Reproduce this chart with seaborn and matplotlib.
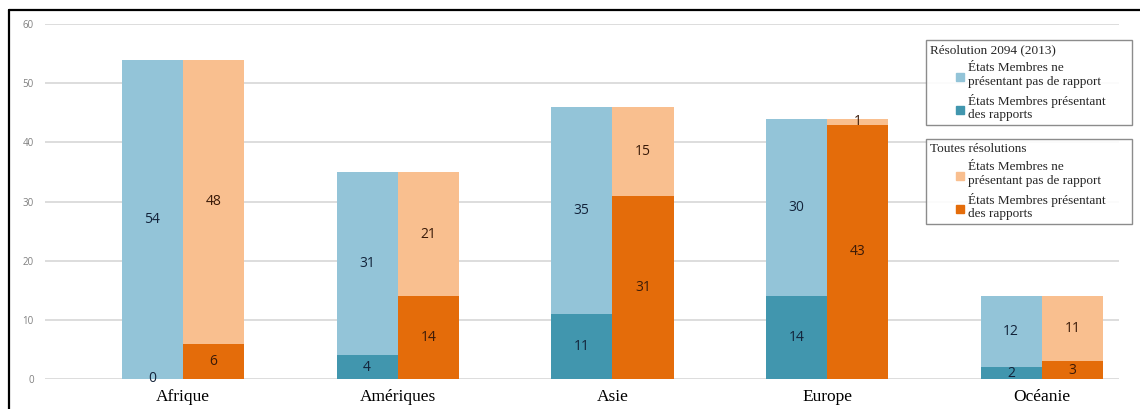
import pandas as pd
import numpy as np
import seaborn as sns
import matplotlib.pyplot as plt
from matplotlib.lines import Line2D
from matplotlib.patches import Patch, Rectangle
from matplotlib.legend_handler import HandlerPatch

# données
regions = ['Afrique', 'Amériques', 'Asie', 'Europe', 'Océanie']
series = ['Résolution 2094 (2013)', 'Toutes résolutions']
res2094_rapport = [0, 4, 11, 14, 2]
res2094_sans = [54, 31, 35, 30, 12]
toutes_rapport = [6, 14, 31, 43, 3]
toutes_sans = [48, 21, 15, 1, 11]
entry_labels = ['États Membres ne\nprésentant pas de rapport',
                'États Membres présentant\ndes rapports']

light = ['#93c4d8', '#f9bf8f']
dark = ['#4196ae', '#e46c0a']
txt_col = ['#13233a', '#3a1a08']

df = pd.DataFrame({
    'region': regions * 2,
    'serie': [series[0]] * 5 + [series[1]] * 5,
    'rapport': res2094_rapport + toutes_rapport,
    'sans': res2094_sans + toutes_sans,
})
df['total'] = df['rapport'] + df['sans']

sns.set_style('whitegrid')
plt.rcParams['font.family'] = ['Open Sans', 'DejaVu Sans']

fig = plt.figure(figsize=(11.4, 4.09), dpi=100)
ax = fig.add_axes([45 / 1140, 30 / 409, 1074 / 1140, 355 / 409])

sns.barplot(data=df, x='region', y='total', hue='serie', palette=light,
            width=0.57, gap=0, saturation=1, legend=False, ax=ax,
            edgecolor='none', linewidth=0)
sns.barplot(data=df, x='region', y='rapport', hue='serie', palette=dark,
            width=0.57, gap=0, saturation=1, legend=False, ax=ax,
            edgecolor='none', linewidth=0)

# étiquettes
for k, cont in enumerate(ax.containers[:2]):
    sub = df[df['serie'] == series[k]].reset_index(drop=True)
    for i, p in enumerate(cont.patches):
        ax.text(p.get_x() + p.get_width() / 2,
                sub.loc[i, 'rapport'] + sub.loc[i, 'sans'] / 2,
                str(sub.loc[i, 'sans']), ha='center', va='center',
                fontsize=10, color=txt_col[k])
for k, cont in enumerate(ax.containers[2:4]):
    ax.bar_label(cont, label_type='center', fontsize=10, color=txt_col[k])

ax.set_ylim(0, 60)
ax.set_xlim(-0.643, 4.36)
ax.set_yticks(range(0, 61, 10))
ax.set_xlabel('')
ax.set_ylabel('')
ax.grid(axis='x', visible=False)
ax.grid(axis='y', color='#dadada', linewidth=1.3)
ax.set_axisbelow(True)
for s in ax.spines.values():
    s.set_visible(False)
ax.tick_params(axis='y', length=0, pad=8, labelsize=7, labelcolor='#808080')
ax.tick_params(axis='x', length=0, pad=7)
for t in ax.get_xticklabels():
    t.set_fontfamily('Liberation Serif')
    t.set_fontsize(12.5)
    t.set_color('black')


# légendes : petit carré décalé à droite de la zone de symbole
def small_square(legend, orig_handle, xdescent, ydescent, width, height, fontsize):
    return Rectangle((width - 6, height / 2 - 4.5), 5.5, 5.5)


leg_props = dict(prop={'family': 'Liberation Serif', 'size': 9.5},
                 title_fontproperties={'family': 'Liberation Serif', 'size': 9.5},
                 alignment='left', fancybox=False, frameon=True,
                 edgecolor='#808080', framealpha=0.9, borderpad=0.3,
                 handlelength=2.6, handletextpad=0.3, labelspacing=0.45,
                 borderaxespad=0, loc='upper left', mode='expand',
                 handler_map={Patch: HandlerPatch(patch_func=small_square)})

h1 = [Patch(color=light[0]), Patch(color=dark[0])]
leg1 = ax.legend(h1, entry_labels, title=series[0],
                 bbox_to_anchor=(926 / 1140, 1 - 119 / 409, 206 / 1140, 79 / 409),
                 bbox_transform=fig.transFigure, **leg_props)
leg1.get_frame().set_linewidth(1.0)
ax.add_artist(leg1)

h2 = [Patch(color=light[1]), Patch(color=dark[1])]
leg2 = ax.legend(h2, entry_labels, title=series[1],
                 bbox_to_anchor=(926 / 1140, 1 - 209 / 409, 206 / 1140, 70 / 409),
                 bbox_transform=fig.transFigure, **leg_props)
leg2.get_frame().set_linewidth(1.0)

# cadre noir (haut et gauche)
fig.add_artist(Line2D([9 / 1140, 1], [1 - 10 / 409, 1 - 10 / 409],
                      color='black', linewidth=1.6, transform=fig.transFigure))
fig.add_artist(Line2D([9 / 1140, 9 / 1140], [0, 1 - 10 / 409],
                      color='black', linewidth=1.6, transform=fig.transFigure))

plt.savefig('out.png', dpi=100)
